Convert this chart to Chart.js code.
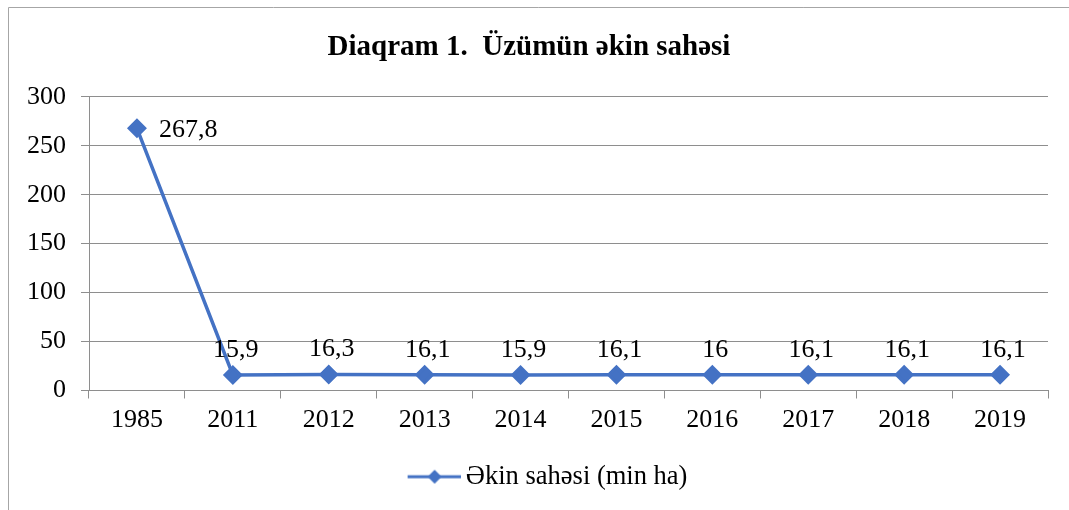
<!DOCTYPE html>
<html>
<head>
<meta charset="utf-8">
<script src="https://cdn.jsdelivr.net/npm/chart.js@4"></script>
<style>
html,body{margin:0;padding:0;background:#fff;}
#wrap{width:1069px;height:510px;}
</style>
</head>
<body>
<div id="wrap"><canvas id="c" width="1069" height="510"></canvas></div>
<script>
const categories = ['1985','2011','2012','2013','2014','2015','2016','2017','2018','2019'];
const areaValues = [267.8, 15.9, 16.3, 16.1, 15.9, 16.1, 16, 16.1, 16.1, 16.1];
const valueLabels = ['267,8','15,9','16,3','16,1','15,9','16,1','16','16,1','16,1','16,1'];
const yTicks = [0, 50, 100, 150, 200, 250, 300];
const seriesName = 'Əkin sahəsi (min ha)';
const chartTitle = 'Diaqram 1.  Üzümün əkin sahəsi';

const BLUE = '#4472C4';
const GRID = '#8e8e8e';
const FONT = "'Liberation Serif', 'Times New Roman', serif";

// legend symbol: line with diamond (left part transparent to shift symbol right)
const sym = document.createElement('canvas');
sym.width = 98; sym.height = 18;
(function(){
  const g = sym.getContext('2d');
  g.strokeStyle = BLUE; g.lineWidth = 3;
  g.beginPath(); g.moveTo(45, 9); g.lineTo(98, 9); g.stroke();
  g.fillStyle = BLUE;
  g.beginPath(); g.moveTo(72, 2); g.lineTo(79, 9); g.lineTo(72, 16); g.lineTo(65, 9); g.closePath(); g.fill();
})();

const frame = {
  id: 'frame',
  beforeDraw(chart){
    const ctx = chart.ctx;
    ctx.save();
    ctx.fillStyle = '#fff';
    ctx.fillRect(0, 0, chart.width, chart.height);
    ctx.strokeStyle = '#a6a6a6'; ctx.lineWidth = 1;
    ctx.beginPath();
    ctx.moveTo(8.5, chart.height); ctx.lineTo(8.5, 7.5); ctx.lineTo(chart.width, 7.5);
    ctx.stroke();
    ctx.restore();
  }
};

const dataLabels = {
  id: 'dataLabels',
  afterDatasetsDraw(chart){
    const ctx = chart.ctx;
    const meta = chart.getDatasetMeta(0);
    ctx.save();
    ctx.font = '26px ' + FONT;
    ctx.fillStyle = '#000';
    ctx.textBaseline = 'middle';
    meta.data.forEach((pt, i) => {
      const txt = valueLabels[i];
      if (i === 0) {
        ctx.textAlign = 'left';
        ctx.fillText(txt, pt.x + 22, pt.y + 2);
      } else {
        ctx.textAlign = 'center';
        ctx.fillText(txt, pt.x + 3, pt.y - 25);
      }
    });
    ctx.restore();
  }
};

new Chart(document.getElementById('c'), {
  type: 'line',
  data: {
    labels: categories,
    datasets: [{
      label: seriesName,
      data: areaValues,
      borderColor: BLUE,
      backgroundColor: BLUE,
      borderWidth: 3.5,
      pointStyle: 'rectRot',
      pointRadius: 7.5,
      pointHoverRadius: 7.5,
      pointBackgroundColor: BLUE,
      pointBorderColor: BLUE,
      tension: 0
    }]
  },
  options: {
    responsive: false,
    animation: false,
    events: [],
    layout: { padding: { left: 10, right: 21, top: 0, bottom: 10 } },
    plugins: {
      title: {
        display: true,
        text: chartTitle,
        color: '#000',
        font: { family: FONT, size: 29, weight: 'bold' },
        padding: { top: 30, bottom: 32 }
      },
      legend: {
        display: true,
        position: 'bottom',
        labels: {
          usePointStyle: true,
          pointStyle: sym,
          pointStyleWidth: 82,
          color: '#000',
          font: { family: FONT, size: 26.5 },
          padding: 10
        }
      },
      tooltip: { enabled: false }
    },
    scales: {
      x: {
        offset: true,
        grid: { display: true, drawOnChartArea: false, drawTicks: true, tickLength: 8, offset: true, color: GRID },
        border: { display: true, color: GRID, width: 1 },
        ticks: { color: '#000', font: { family: FONT, size: 26 }, padding: 6, maxRotation: 0 },
        afterFit(s){ s.height = 63; }
      },
      y: {
        min: 0, max: 300,
        afterBuildTicks(s){ s.ticks = yTicks.map(v => ({ value: v })); },
        grid: { color: GRID, tickLength: 8, drawTicks: true },
        border: { display: true, color: GRID, width: 1 },
        ticks: { color: '#000', font: { family: FONT, size: 26 }, padding: 15 },
        afterFit(s){ s.width = 79; }
      }
    }
  },
  plugins: [frame, dataLabels]
});
</script>
</body>
</html>
